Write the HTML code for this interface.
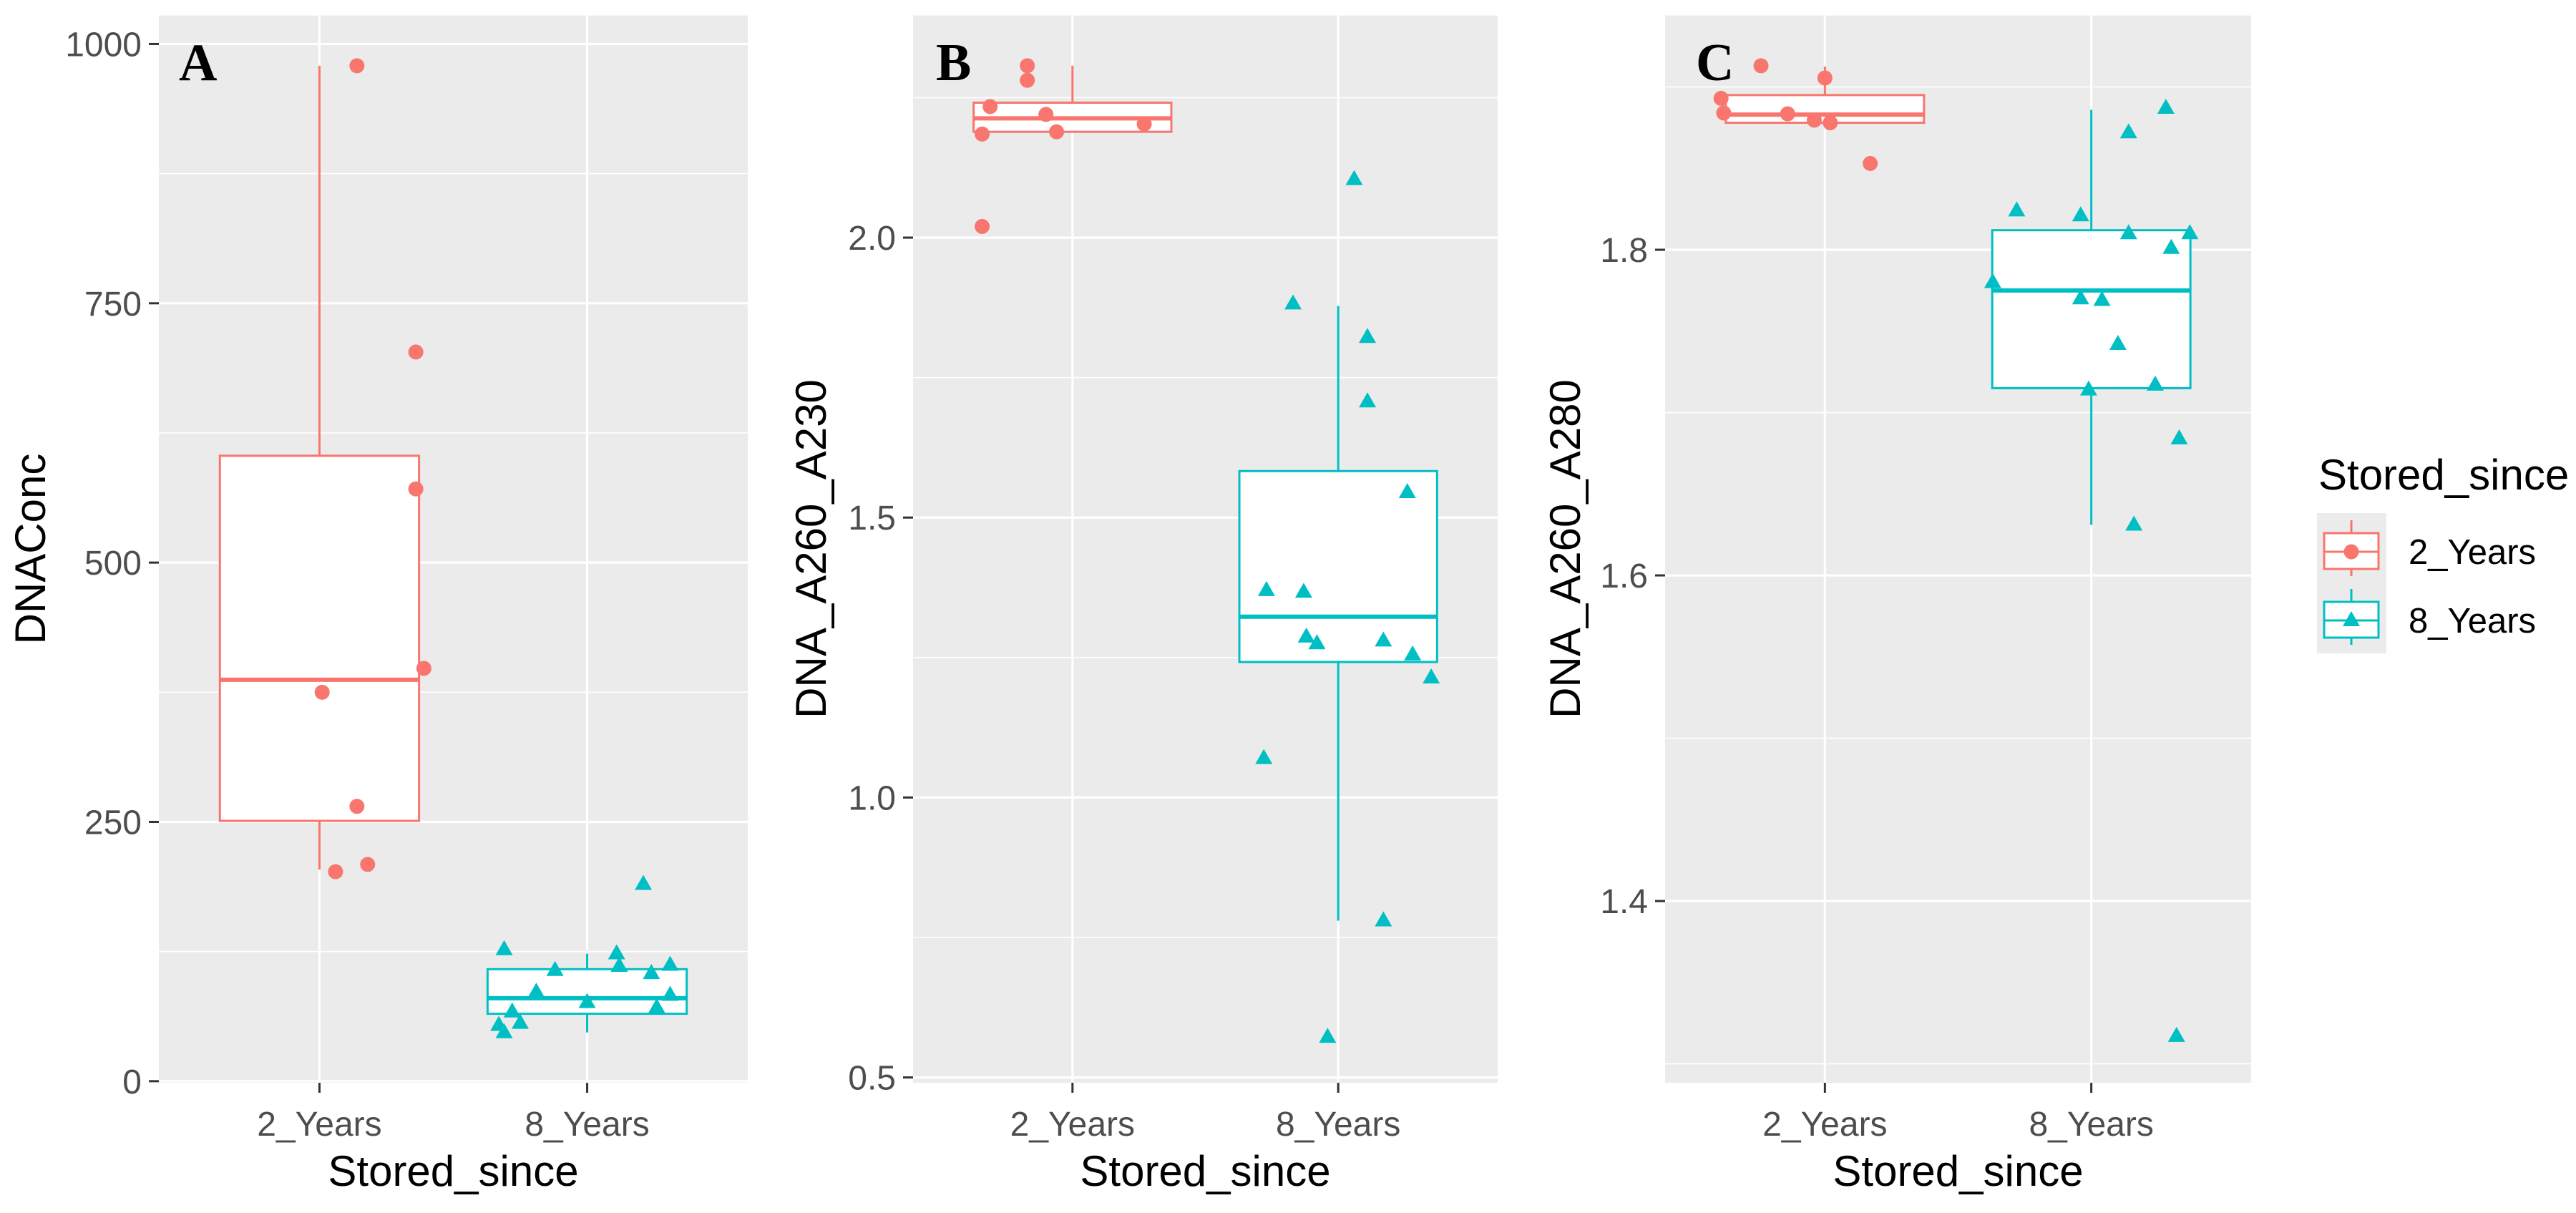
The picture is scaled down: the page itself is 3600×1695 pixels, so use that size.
<!DOCTYPE html>
<html><head><meta charset="utf-8"><style>
html,body{margin:0;padding:0;background:#fff;}
svg{display:block;font-family:"Liberation Sans",Arial,sans-serif;}
</style></head><body>
<svg id="fig" width="3600" height="1695" viewBox="0 0 3600 1695" xmlns="http://www.w3.org/2000/svg"></svg>
<script>
const categories = ["2_Years","8_Years"];
// Panel A
const aRedJit = [0.14,0.36,0.36,0.39,0.01,0.14,0.06,0.18];
const aRedVal = [979,703,571,398,375,265,202,209];
const aTealJit = [-0.31,-0.12,-0.19,0,0.11,0.12,0.21,0.24,0.31,0.31,0.26,-0.33,-0.31,-0.28,-0.25];
const aTealVal = [127,107,86,76,123,111,190,104,112,83,71,54,47,67,56];
const aRedBox = [204,251,387,603,979];
const aTealBox = [47,65,80,108,123];
const aMajor = [0,250,500,750,1000];
const aMajorLbl = ["0","250","500","750","1000"];
const aMinor = [125,375,625,875];
// Panel B
const bRedJit = [-0.17,-0.17,-0.31,-0.10,-0.34,-0.06,0.27,-0.34];
const bRedVal = [2.307,2.281,2.234,2.22,2.185,2.189,2.203,2.02];
const bTealJit = [0.06,-0.17,0.11,0.11,0.26,-0.27,-0.13,-0.12,-0.08,0.17,0.28,0.35,-0.28,0.17,-0.04];
const bTealVal = [2.104,1.882,1.822,1.707,1.545,1.37,1.367,1.287,1.275,1.28,1.255,1.214,1.07,0.78,0.572];
const bRedBox = [2.189,2.189,2.213,2.241,2.307];
const bTealBox = [0.78,1.242,1.323,1.583,1.878];
const bMajor = [0.5,1.0,1.5,2.0];
const bMajorLbl = ["0.5","1.0","1.5","2.0"];
const bMinor = [0.75,1.25,1.75,2.25];
// Panel C
const cRedJit = [-0.24,0,-0.39,-0.38,-0.14,-0.04,0.02,0.17];
const cRedVal = [1.913,1.9055,1.893,1.884,1.8835,1.8796,1.878,1.853];
const cTealJit = [0.28,0.14,-0.28,-0.04,0.14,0.37,0.30,-0.37,-0.04,0.04,0.10,-0.01,0.24,0.33,0.16,0.32];
const cTealVal = [1.887,1.872,1.824,1.821,1.81,1.81,1.801,1.78,1.77,1.769,1.742,1.714,1.717,1.684,1.631,1.317];
const cRedBox = [1.878,1.878,1.883,1.895,1.9125];
const cTealBox = [1.631,1.715,1.775,1.812,1.886];
const cMajor = [1.4,1.6,1.8];
const cMajorLbl = ["1.4","1.6","1.8"];
const cMinor = [1.3,1.5,1.7,1.9];

const NS="http://www.w3.org/2000/svg";
const svg=document.getElementById('fig');
const RED="#F8766D", TEAL="#00BFC4";
function el(tag,attrs,parent){const e=document.createElementNS(NS,tag);for(const k in attrs)e.setAttribute(k,attrs[k]);(parent||svg).appendChild(e);return e;}
const TOP=21.6, BOT=1513;

function panel(cfg){
  const g=el('g',{});
  
  
  const x0=cfg.x0,x1=cfg.x1;
  const yS=v=>TOP+(cfg.dMax-v)/(cfg.dMax-cfg.dMin)*(BOT-TOP);
  const span=(x1-x0)/2.2*1; // category spacing approx
  const catX=i=>x0+(x1-x0)*(0.6+i)/2.2;
  const spacing=(x1-x0)/2.2;
  const bg=el('rect',{x:x0,y:TOP,width:x1-x0,height:BOT-TOP,fill:'#EBEBEB'},g);
  
  
  cfg.minor.forEach(v=>{const l=el('line',{x1:x0,x2:x1,y1:yS(v),y2:yS(v),stroke:'#fff','stroke-width':1.6},g);
    });
  cfg.major.forEach((v,i)=>{const l=el('line',{x1:x0,x2:x1,y1:yS(v),y2:yS(v),stroke:'#fff','stroke-width':3.2},g);
    
    const t=el('line',{x1:x0-14,x2:x0,y1:yS(v),y2:yS(v),stroke:'#333','stroke-width':3},g);
    
    const tx=el('text',{x:x0-24,y:yS(v)+17,'text-anchor':'end','font-size':48,fill:'#4D4D4D'},g);
    tx.textContent=cfg.majorLbl[i];
    });
  categories.forEach((c,i)=>{const x=catX(i);
    const l=el('line',{x1:x,x2:x,y1:TOP,y2:BOT,stroke:'#fff','stroke-width':3.2},g);
    
    const t=el('line',{x1:x,x2:x,y1:BOT,y2:BOT+14,stroke:'#333','stroke-width':3},g);
    
    const tx=el('text',{x:x,y:1587,'text-anchor':'middle','font-size':48,fill:'#4D4D4D'},g);
    tx.textContent=c;
    });
  // letter
  const lb=el('text',{x:cfg.letterX,y:112,'font-size':74,'font-weight':'bold','font-family':'"Liberation Serif",serif',fill:'#000'},g);
  lb.textContent=cfg.id;
  
  // boxes
  const half=0.372*spacing;
  [[cfg.redBox,RED,0],[cfg.tealBox,TEAL,1]].forEach(([b,col,i])=>{
    const cx=catX(i);
    const bx=el('g',{},g);
    
    
    el('line',{x1:cx,x2:cx,y1:yS(b[4]),y2:yS(b[3]),stroke:col,'stroke-width':3},bx);
    el('line',{x1:cx,x2:cx,y1:yS(b[1]),y2:yS(b[0]),stroke:col,'stroke-width':3},bx);
    el('rect',{x:cx-half,y:yS(b[3]),width:2*half,height:yS(b[1])-yS(b[3]),fill:'#fff',stroke:col,'stroke-width':3},bx);
    el('line',{x1:cx-half,x2:cx+half,y1:yS(b[2]),y2:yS(b[2]),stroke:col,'stroke-width':6},bx);
  });
  cfg.redVal.forEach((v,k)=>{
    const c=el('circle',{cx:catX(0)+cfg.redJit[k]*spacing,cy:yS(v),r:10.5,fill:RED},g);
    });
  cfg.tealVal.forEach((v,k)=>{
    const x=catX(1)+cfg.tealJit[k]*spacing,y=yS(v);
    const p=el('polygon',{points:`${x-12},${y+8} ${x+12},${y+8} ${x},${y-13}`,fill:TEAL},g);
    });
  // axis titles
  const xt=el('text',{x:(x0+x1)/2,y:1657,'text-anchor':'middle','font-size':60,fill:'#000'},g);
  xt.textContent='Stored_since';
  
  const yt=el('text',{x:0,y:0,'text-anchor':'middle','font-size':60,fill:'#000',transform:`translate(${cfg.ytX},767) rotate(-90)`},g);
  yt.textContent=cfg.yTitle;
  
}
panel({id:'A',x0:222,x1:1045,dMin:-1.5,dMax:1027.5,major:aMajor,majorLbl:aMajorLbl,minor:aMinor,redJit:aRedJit,redVal:aRedVal,tealJit:aTealJit,tealVal:aTealVal,redBox:aRedBox,tealBox:aTealBox,letterX:250,ytX:63,yTitle:'DNAConc'});
panel({id:'B',x0:1276,x1:2093,dMin:0.4905,dMax:2.3968,major:bMajor,majorLbl:bMajorLbl,minor:bMinor,redJit:bRedJit,redVal:bRedVal,tealJit:bTealJit,tealVal:bTealVal,redBox:bRedBox,tealBox:bTealBox,letterX:1308,ytX:1154,yTitle:'DNA_A260_A230'});
panel({id:'C',x0:2327,x1:3146,dMin:1.2884,dMax:1.9439,major:cMajor,majorLbl:cMajorLbl,minor:cMinor,redJit:cRedJit,redVal:cRedVal,tealJit:cTealJit,tealVal:cTealVal,redBox:cRedBox,tealBox:cTealBox,letterX:2370,ytX:2208,yTitle:'DNA_A260_A280'});

// legend
const lg=el('g',{});


const lt=el('text',{x:3240,y:684,'font-size':60,fill:'#000'},lg);
lt.textContent='Stored_since';

el('rect',{x:3238,y:717,width:97,height:196,fill:'#EBEBEB'},lg);
[[RED,771,'2_Years',0],[TEAL,867,'8_Years',1]].forEach(([col,cy,lab,i])=>{
  const e=el('g',{},lg);
  
  
  el('line',{x1:3286,x2:3286,y1:cy-44,y2:cy+34,stroke:col,'stroke-width':3},e);
  el('rect',{x:3248,y:cy-26,width:76,height:50,fill:'#fff',stroke:col,'stroke-width':3},e);
  el('line',{x1:3248,x2:3324,y1:cy,y2:cy,stroke:col,'stroke-width':3},e);
  if(i===0) el('circle',{cx:3286,cy:cy,r:10.5,fill:col},e);
  else el('polygon',{points:`${3274},${cy+8} ${3298},${cy+8} ${3286},${cy-13}`,fill:col},e);
  const t=el('text',{x:3366,y:cy+17,'font-size':49,fill:'#000'},e);
  t.textContent=lab;
});
</script>
</body></html>
